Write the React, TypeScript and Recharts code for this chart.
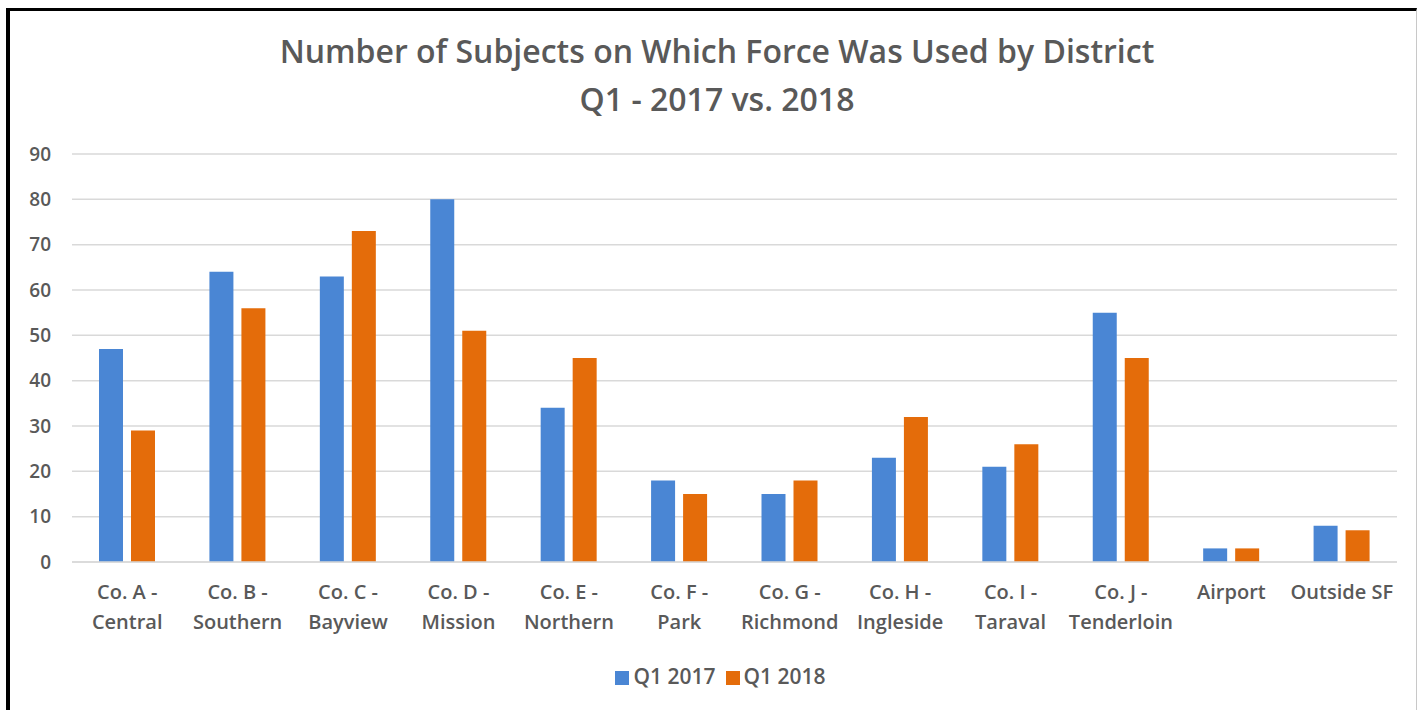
import React from "react";
import { BarChart, Bar, XAxis, YAxis, CartesianGrid, Legend } from "recharts";

const categories = [
  "Co. A - Central",
  "Co. B - Southern",
  "Co. C - Bayview",
  "Co. D - Mission",
  "Co. E - Northern",
  "Co. F - Park",
  "Co. G - Richmond",
  "Co. H - Ingleside",
  "Co. I - Taraval",
  "Co. J - Tenderloin",
  "Airport",
  "Outside SF",
];
const q12017 = [47, 64, 63, 80, 34, 18, 15, 23, 21, 55, 3, 8];
const q12018 = [29, 56, 73, 51, 45, 15, 18, 32, 26, 45, 3, 7];
const yTicks = [0, 10, 20, 30, 40, 50, 60, 70, 80, 90];
const seriesNames = ["Q1 2017", "Q1 2018"];
const titleLines = [
  "Number of Subjects on Which Force Was Used by District",
  "Q1 - 2017 vs. 2018",
];

const data = categories.map((c, i) => ({
  name: c,
  a: q12017[i],
  b: q12018[i],
}));

const FONT = "'Open Sans', sans-serif";
const TEXT = "#595959";

const CategoryTick = (props: any) => {
  const { x, y, payload } = props;
  const label: string = payload.value;
  const idx = label.indexOf("- ");
  const parts =
    idx >= 0 ? [label.slice(0, idx + 1), label.slice(idx + 2)] : [label];
  return (
    <g transform={`translate(${x},${y})`}>
      <text
        textAnchor="middle"
        fill={TEXT}
        fontSize={20}
        fontWeight={600}
        fontFamily={FONT}
      >
        {parts.map((p, i) => (
          <tspan key={i} x={0} dy={i === 0 ? 37 : 30}>
            {p}
          </tspan>
        ))}
      </text>
    </g>
  );
};

export default function App() {
  return (
    <div
      style={{
        position: "absolute",
        left: 0,
        top: 0,
        width: 1417,
        height: 710,
        background: "#fff",
        overflow: "hidden",
      }}
    >
      <div
        style={{
          position: "absolute",
          left: 6,
          top: 8,
          width: 1411,
          height: 720,
          boxSizing: "border-box",
          borderLeft: "4px solid #000",
          borderTop: "3px solid #000",
          borderRight: "1px solid #c8c8c8",
        }}
      />
      <div
        style={{
          position: "absolute",
          left: 0,
          top: 27,
          width: 1434,
          textAlign: "center",
          fontFamily: FONT,
          fontSize: 32,
          fontWeight: 600,
          color: TEXT,
          lineHeight: "48px",
        }}
      >
        {titleLines.map((t, i) => (
          <div key={i}>{t}</div>
        ))}
      </div>
      <div style={{ position: "absolute", left: 0, top: 0 }}>
        <BarChart
          width={1417}
          height={710}
          data={data}
          margin={{ top: 154, right: 20, bottom: 20, left: 0 }}
          barSize={24}
          barGap={8}
        >
          <CartesianGrid vertical={false} stroke="#d9d9d9" strokeWidth={1.5} />
          <XAxis
            dataKey="name"
            axisLine={{ stroke: "#d9d9d9", strokeWidth: 1.5 }}
            tickLine={false}
            tickSize={0}
            tickMargin={0}
            interval={0}
            height={100}
            tick={<CategoryTick />}
          />
          <YAxis
            width={72}
            domain={[0, 90]}
            ticks={yTicks}
            axisLine={false}
            tickLine={false}
            tickSize={0}
            tickMargin={21}
            tick={{
              fill: TEXT,
              fontSize: 19,
              fontWeight: 600,
              fontFamily: FONT,
            }}
          />
          <Legend
            verticalAlign="bottom"
            align="center"
            iconType="square"
            iconSize={14}
            wrapperStyle={{ fontFamily: FONT, fontSize: 21, fontWeight: 600, paddingLeft: 27 }}
            formatter={(v: string) => <span style={{ color: TEXT }}>{v}</span>}
          />
          <Bar
            dataKey="a"
            name={seriesNames[0]}
            fill="#4a86d4"
            isAnimationActive={false}
          />
          <Bar
            dataKey="b"
            name={seriesNames[1]}
            fill="#e46c0a"
            isAnimationActive={false}
          />
        </BarChart>
      </div>
    </div>
  );
}
